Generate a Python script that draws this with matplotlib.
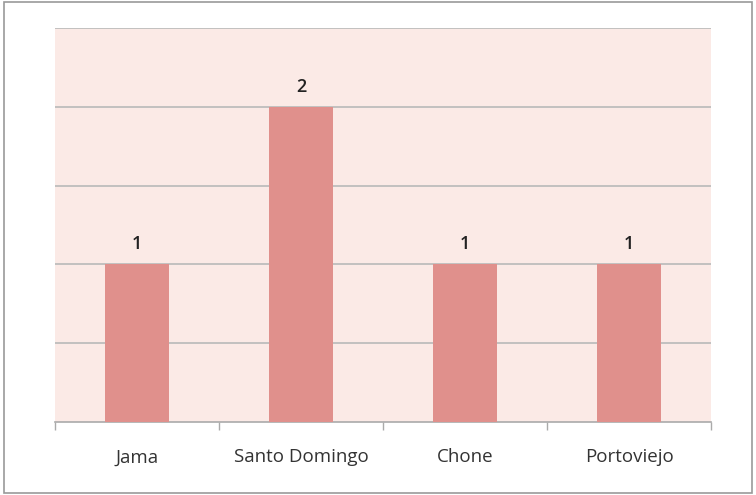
import matplotlib.pyplot as plt
from matplotlib.patches import Rectangle

cities = ['Jama', 'Santo Domingo', 'Chone', 'Portoviejo']
counts = [1, 2, 1, 1]

fig = plt.figure(figsize=(7.56, 4.95), dpi=100)
fig.patches.append(Rectangle((0.005, 0.005), 0.99, 0.99, transform=fig.transFigure,
                             fill=False, edgecolor='#999999', linewidth=1.2))
ax = fig.add_axes([0.0728, 0.1475, 0.8677, 0.796])
ax.set_facecolor('#FBEAE6')

x = range(len(cities))
ax.bar(x, counts, width=0.39, color='#E0908C', zorder=3)
for i, v in enumerate(counts):
    ax.text(i, v + 0.07, str(v), ha='center', va='bottom', fontsize=13,
            fontfamily='Open Sans', fontweight='semibold', color='#222222', zorder=4)

ax.set_xlim(-0.5, 3.5)
ax.set_ylim(0, 2.5)
ax.set_yticks([0.5, 1.0, 1.5, 2.0, 2.5])
ax.yaxis.grid(True, color='#BDBDBD', linewidth=1.3, zorder=1)
ax.tick_params(axis='y', left=False, labelleft=False)

ax.set_xticks([-0.5, 0.5, 1.5, 2.5, 3.5])
ax.set_xticklabels([])
ax.set_xticks(list(x), minor=True)
ax.set_xticklabels(cities, minor=True, fontsize=13.5, fontfamily='Open Sans', color='#333333')
ax.tick_params(axis='x', which='major', length=6, color='#AAAAAA', width=1)
ax.tick_params(axis='x', which='minor', length=0, pad=19)

for s in ['top', 'right', 'left']:
    ax.spines[s].set_visible(False)
ax.spines['bottom'].set_color('#AAAAAA')
ax.spines['bottom'].set_linewidth(1.2)

plt.savefig('out.png', dpi=100)
